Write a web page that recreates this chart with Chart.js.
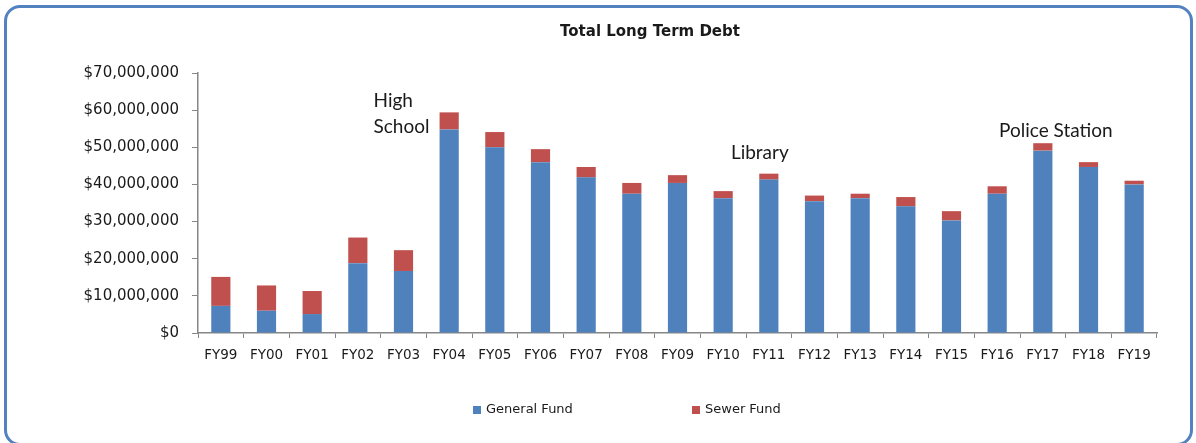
<!DOCTYPE html>
<html>
<head>
<meta charset="utf-8">
<script src="https://cdn.jsdelivr.net/npm/chart.js@4/dist/chart.umd.min.js"></script>
<style>
  html, body { margin: 0; padding: 0; background: #fff; }
  #frame {
    position: absolute; left: 4px; top: 5px; width: 1189px; height: 441px;
    box-sizing: border-box; border: 3px solid #5282c0; border-radius: 16px;
  }
  #wrap { position: absolute; left: 0; top: 0; width: 1196px; height: 443px; }
</style>
</head>
<body>
<div id="frame"></div>
<div id="wrap"><canvas id="debtChart" width="1196" height="443"></canvas></div>
<script>
// --- Data ---
const fiscalYears = ['FY99', 'FY00', 'FY01', 'FY02', 'FY03', 'FY04', 'FY05', 'FY06', 'FY07', 'FY08', 'FY09',
  'FY10', 'FY11', 'FY12', 'FY13', 'FY14', 'FY15', 'FY16', 'FY17', 'FY18', 'FY19'];
const generalFund = [7.3, 6.0, 5.1, 18.8, 16.7, 54.8, 50.0, 46.0, 41.9, 37.5, 40.4,
  36.3, 41.3, 35.5, 36.3, 34.1, 30.3, 37.5, 49.1, 44.7, 40.0].map(v => v * 1e6);
const sewerFund = [7.8, 6.8, 6.2, 6.9, 5.6, 4.6, 4.1, 3.5, 2.8, 2.9, 2.1,
  1.9, 1.6, 1.5, 1.2, 2.5, 2.5, 2.0, 2.0, 1.3, 1.0].map(v => v * 1e6);
const notes = [
  { lines: ['High', 'School'], category: 'FY03', value: 62.5e6, dx: -2 },
  { lines: ['Library'], category: 'FY11', value: 48.5e6, dx: -9 },
  { lines: ['Police Station'], category: 'FY17', value: 54.4e6, dx: 13 }
];

const BLUE = '#4f81bd';
const RED = '#c0504d';
const AXIS = '#868686';
const TEXT = '#1a1a1a';

// the original title sits right of the canvas centre
const titleShift = {
  id: 'titleShift',
  afterLayout(chart) {
    if (chart.titleBlock) chart.titleBlock.left = 143;
  }
};

// annotation text above the bars
const notesPlugin = {
  id: 'notes',
  afterDatasetsDraw(chart) {
    const { ctx, scales: { x, y } } = chart;
    ctx.save();
    ctx.font = '19px Lato';
    ctx.fillStyle = TEXT;
    ctx.textAlign = 'center';
    ctx.textBaseline = 'middle';
    notes.forEach(n => {
      const px = x.getPixelForValue(fiscalYears.indexOf(n.category)) + n.dx;
      const py = y.getPixelForValue(n.value);
      let left = px;
      if (n.lines.length > 1) {
        const w = Math.max(...n.lines.map(t => ctx.measureText(t).width));
        ctx.textAlign = 'left';
        left = px - w / 2;
      }
      n.lines.forEach((t, i) => ctx.fillText(t, left, py + i * 26));
      ctx.textAlign = 'center';
    });
    ctx.restore();
  }
};

// legend drawn at the bottom with wide spacing
const legendPlugin = {
  id: 'wideLegend',
  afterDraw(chart) {
    const { ctx } = chart;
    const startX = [473, 692];
    ctx.save();
    ctx.font = '13px "DejaVu Sans"';
    ctx.textBaseline = 'middle';
    ctx.fillStyle = TEXT;
    chart.data.datasets.forEach((ds, i) => {
      ctx.fillStyle = ds.backgroundColor;
      ctx.fillRect(startX[i], 406, 8, 8);
      ctx.fillStyle = TEXT;
      ctx.fillText(ds.label, startX[i] + 13, 410);
    });
    ctx.restore();
  }
};

new Chart(document.getElementById('debtChart'), {
  type: 'bar',
  data: {
    labels: fiscalYears,
    datasets: [
      { label: 'General Fund', data: generalFund, backgroundColor: BLUE, barPercentage: 0.42, categoryPercentage: 1 },
      { label: 'Sewer Fund', data: sewerFund, backgroundColor: RED, barPercentage: 0.42, categoryPercentage: 1 }
    ]
  },
  options: {
    responsive: false,
    animation: false,
    layout: { padding: { left: 0, right: 39, top: 0, bottom: 0 } },
    plugins: {
      legend: { display: false },
      tooltip: { enabled: false },
      title: {
        display: true,
        text: 'Total Long Term Debt',
        color: TEXT,
        font: { family: 'DejaVu Sans', size: 15, weight: 'bold' },
        padding: { top: 23, bottom: 32 }
      }
    },
    scales: {
      x: {
        stacked: true,
        grid: { display: true, drawOnChartArea: false, color: AXIS, tickLength: 5, offset: true },
        border: { color: AXIS, width: 1.5 },
        ticks: { color: TEXT, font: { family: 'DejaVu Sans', size: 13.5 }, padding: 9, maxRotation: 0, autoSkip: false },
        afterFit: s => { s.height = 110; }
      },
      y: {
        stacked: true,
        min: 0,
        max: 70e6,
        grid: { display: true, drawOnChartArea: false, color: AXIS, tickLength: 6 },
        border: { color: AXIS, width: 1.5 },
        ticks: {
          stepSize: 10e6,
          color: TEXT,
          font: { family: 'DejaVu Sans', size: 15 },
          padding: 13,
          callback: v => '$' + v.toLocaleString('en-US')
        },
        afterFit: s => { s.width = 198; }
      }
    }
  },
  plugins: [titleShift, notesPlugin, legendPlugin]
});
</script>
</body>
</html>
